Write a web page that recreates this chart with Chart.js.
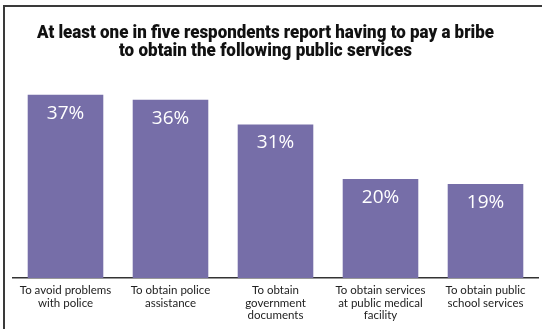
<!DOCTYPE html>
<html>
<head>
<meta charset="utf-8">
<script src="https://cdn.jsdelivr.net/npm/chart.js@4/dist/chart.umd.min.js"></script>
<style>
  html, body { margin: 0; padding: 0; background: #fff; }
  #wrap { position: relative; width: 542px; height: 329px; overflow: hidden; }
  #frame { position: absolute; left: 3px; top: 5px; right: -4px; bottom: -4px;
           border-left: 2px solid #3a3a3a; border-top: 2px solid #3a3a3a; pointer-events: none; }
  canvas { position: absolute; left: 0; top: 0; }
</style>
</head>
<body>
<div id="wrap">
  <canvas id="chart" width="542" height="329"></canvas>
  <div id="frame"></div>
</div>
<script>
// Share of respondents reporting a bribe, by public service
const categories = [
  ['To avoid problems', 'with police'],
  ['To obtain police', 'assistance'],
  ['To obtain', 'government', 'documents'],
  ['To obtain services', 'at public medical', 'facility'],
  ['To obtain public', 'school services']
];
const values = [37, 36, 31, 20, 19];
const titleLines = [
  'At least one in five respondents report having to pay a bribe',
  'to obtain the following public services'
];

const barColor = '#766ea8';

// Condensed heavy heading: each line is squeezed horizontally into its own width
const heading = {
  id: 'heading',
  afterDraw(chart) {
    const ctx = chart.ctx;
    const cx = 265.5;
    const lines = [
      { text: titleLines[0], y: 38, width: 457 },
      { text: titleLines[1], y: 56, width: 293 }
    ];
    ctx.save();
    ctx.fillStyle = '#111';
    ctx.font = '900 18px Roboto, sans-serif';
    ctx.textAlign = 'center';
    ctx.textBaseline = 'alphabetic';
    lines.forEach(l => {
      const w = ctx.measureText(l.text).width;
      ctx.save();
      ctx.translate(cx, l.y);
      ctx.scale(l.width / w, 1);
      ctx.fillText(l.text, 0, 0);
      ctx.restore();
    });
    ctx.restore();
  }
};

// Writes the percentage inside the top of each bar
const valueLabels = {
  id: 'valueLabels',
  afterDatasetsDraw(chart) {
    const ctx = chart.ctx;
    const meta = chart.getDatasetMeta(0);
    ctx.save();
    ctx.fillStyle = '#ffffff';
    ctx.font = '19px "Open Sans", sans-serif';
    ctx.textAlign = 'center';
    ctx.textBaseline = 'top';
    meta.data.forEach((bar, i) => {
      ctx.fillText(values[i] + '%', bar.x, bar.y + 9);
    });
    ctx.restore();
  }
};

new Chart(document.getElementById('chart'), {
  type: 'bar',
  data: {
    labels: categories,
    datasets: [{
      data: values,
      backgroundColor: barColor,
      borderWidth: 0,
      barPercentage: 0.72,
      categoryPercentage: 1.0
    }]
  },
  options: {
    responsive: false,
    animation: false,
    devicePixelRatio: 1,
    layout: { padding: { left: 13, right: 4, top: 80, bottom: 0 } },
    plugins: {
      legend: { display: false },
      tooltip: { enabled: false },
      title: { display: false }
    },
    scales: {
      x: {
        grid: { display: false, drawTicks: false },
        border: { display: true, color: '#333', width: 1.5 },
        ticks: {
          color: '#222',
          font: { family: 'Lato, sans-serif', size: 11.5, lineHeight: 1.1 },
          padding: 6,
          maxRotation: 0,
          autoSkip: false
        },
        afterFit(scale) { scale.height = 51; }
      },
      y: {
        display: false,
        min: 0,
        max: 40
      }
    }
  },
  plugins: [valueLabels, heading]
});
</script>
</body>
</html>
